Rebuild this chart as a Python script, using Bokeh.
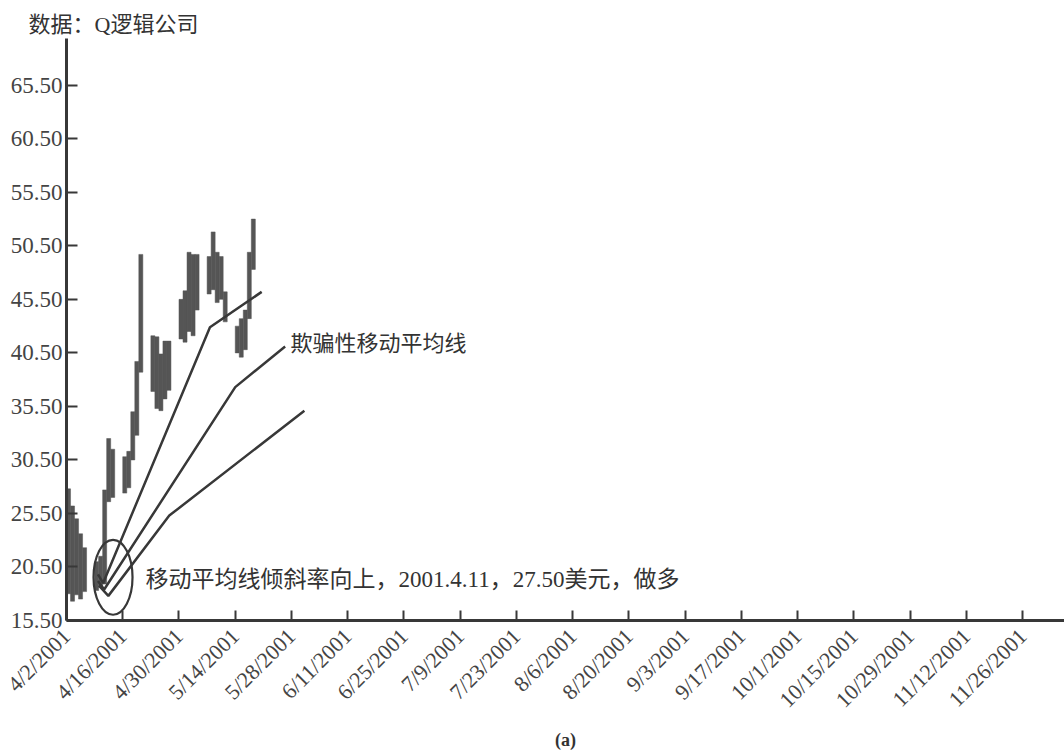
import math
import pandas as pd
from bokeh.plotting import figure
from bokeh.models import Range1d, FixedTicker, Label, NumeralTickFormatter
from bokeh.embed import file_html
from bokeh.resources import INLINE

# ---------------- data ----------------
START = "2001-04-02"

bar_dates = [
    "2001-04-02", "2001-04-03", "2001-04-04", "2001-04-05", "2001-04-06",
    "2001-04-09", "2001-04-10", "2001-04-11", "2001-04-12", "2001-04-13",
    "2001-04-16", "2001-04-17", "2001-04-18", "2001-04-19", "2001-04-20",
    "2001-04-23", "2001-04-24", "2001-04-25", "2001-04-26", "2001-04-27",
    "2001-04-30", "2001-05-01", "2001-05-02", "2001-05-03", "2001-05-04",
    "2001-05-07", "2001-05-08", "2001-05-09", "2001-05-10", "2001-05-11",
    "2001-05-14", "2001-05-15", "2001-05-16", "2001-05-17", "2001-05-18",
]
bar_high = [
    27.8, 26.2, 25.0, 23.6, 22.3,
    21.0, 21.5, 27.7, 32.5, 31.5,
    30.8, 31.3, 35.0, 39.7, 49.7,
    42.1, 42.0, 40.4, 41.6, 41.6,
    45.5, 46.3, 49.9, 49.7, 49.7,
    49.5, 51.8, 49.9, 49.5, 46.2,
    43.0, 43.7, 44.5, 49.9, 53.0,
]
bar_low = [
    18.0, 17.3, 17.9, 17.5, 18.2,
    18.3, 18.6, 18.9, 26.6, 27.0,
    27.4, 27.9, 30.5, 32.8, 38.7,
    36.9, 35.3, 35.1, 36.2, 37.0,
    41.8, 41.5, 42.5, 42.1, 44.5,
    46.0, 46.4, 45.2, 45.5, 43.4,
    40.5, 40.1, 40.8, 43.7, 48.3,
]

# moving-average lines (as drawn)
ma1_dates = ["2001-04-09 20:00", "2001-04-11 03:00", "2001-05-07 17:00", "2001-05-20 14:00"]
ma1_vals = [19.8, 19.0, 42.9, 46.2]
ma2_dates = ["2001-04-09 20:00", "2001-04-11 09:00", "2001-05-14 00:00", "2001-05-26 10:00"]
ma2_vals = [19.2, 18.4, 37.3, 41.1]
ma3_dates = ["2001-04-10 02:00", "2001-04-12 10:00", "2001-04-27 14:00", "2001-05-31 05:00"]
ma3_vals = [18.75, 17.8, 25.3, 35.1]

tick_dates = [
    "2001-04-02", "2001-04-16", "2001-04-30", "2001-05-14", "2001-05-28",
    "2001-06-11", "2001-06-25", "2001-07-09", "2001-07-23", "2001-08-06",
    "2001-08-20", "2001-09-03", "2001-09-17", "2001-10-01", "2001-10-15",
    "2001-10-29", "2001-11-12", "2001-11-26",
]
tick_labels = [
    "4/2/2001", "4/16/2001", "4/30/2001", "5/14/2001", "5/28/2001",
    "6/11/2001", "6/25/2001", "7/9/2001", "7/23/2001", "8/6/2001",
    "8/20/2001", "9/3/2001", "9/17/2001", "10/1/2001", "10/15/2001",
    "10/29/2001", "11/12/2001", "11/26/2001",
]
y_ticks = [15.5, 20.5, 25.5, 30.5, 35.5, 40.5, 45.5, 50.5, 55.5, 60.5, 65.5]

title_text = "数据：Q逻辑公司"
ma_label = "欺骗性移动平均线"
signal_label = "移动平均线倾斜率向上，2001.4.11，27.50美元，做多"
caption = "(a)"

# ---------------- helpers ----------------
t0 = pd.Timestamp(START)


def to_days(seq):
    return [(pd.Timestamp(d) - t0) / pd.Timedelta(days=1) for d in seq]


bar_x = [d + 0.5 for d in to_days(bar_dates)]
tick_x = to_days(tick_dates)

INK = "#383838"
BAR = "#555555"
SERIF = "Liberation Serif"
MIXED = "Liberation Serif, Noto Sans CJK SC"

p = figure(
    width=1064, height=753,
    output_backend="svg", toolbar_location=None,
    x_range=Range1d(0, 248.4), y_range=Range1d(15.5, 69.87),
    min_border_left=66, min_border_right=0, min_border_top=38, min_border_bottom=130,
)
p.outline_line_color = None
p.grid.visible = False
p.background_fill_color = "white"
p.border_fill_color = "white"

# title (top-left data note)
p.title.text = title_text
p.title.align = "left"
p.title.offset = -38
p.title.standoff = 4
p.title.text_font = MIXED
p.title.text_font_size = "22px"
p.title.text_font_style = "normal"
p.title.text_color = "#333333"

# price bars
p.vbar(x=bar_x, top=bar_high, bottom=bar_low, width=1.0,
       fill_color=BAR, line_color=BAR, line_width=0.5)

# moving averages
for ds, vs in ((ma1_dates, ma1_vals), (ma2_dates, ma2_vals), (ma3_dates, ma3_vals)):
    p.line(x=to_days(ds), y=vs, line_color=INK, line_width=2.5)

# highlight circle
p.ellipse(x=[11.58], y=[19.54], width=39, height=75,
          width_units="screen", height_units="screen",
          fill_color=None, line_color=INK, line_width=2.2)

# axes
p.xaxis.ticker = FixedTicker(ticks=tick_x)
p.xaxis.major_label_overrides = {t: lab for t, lab in zip(tick_x, tick_labels)}
p.xaxis.major_label_orientation = math.pi / 4
p.yaxis.ticker = FixedTicker(ticks=y_ticks)
p.yaxis.formatter = NumeralTickFormatter(format="0.00")

for ax in (p.xaxis[0], p.yaxis[0]):
    ax.axis_line_color = INK
    ax.axis_line_width = 3
    ax.major_tick_line_color = INK
    ax.major_tick_line_width = 2
    ax.major_tick_out = 0
    ax.minor_tick_line_color = None
    ax.major_label_text_font = SERIF
    ax.major_label_text_color = "#444444"

p.xaxis.major_label_text_font_size = "22px"
p.yaxis.major_label_text_font_size = "23px"
p.xaxis.major_tick_in = 10
p.yaxis.major_tick_in = 11
p.xaxis.major_label_standoff = 12
p.yaxis.major_label_standoff = 4

p.xaxis.axis_label = caption
p.xaxis.axis_label_text_font = SERIF
p.xaxis.axis_label_text_font_style = "bold"
p.xaxis.axis_label_text_font_size = "18px"
p.xaxis.axis_label_text_color = "#333333"
p.xaxis.axis_label_standoff = 6

# annotations
p.add_layout(Label(x=55.76, y=41.34, text=ma_label, text_font=MIXED,
                   text_font_size="22px", text_color="#333333",
                   text_baseline="middle", text_align="left"))
p.add_layout(Label(x=19.67, y=19.31, text=signal_label, text_font=MIXED,
                   text_font_size="23px", text_color="#333333",
                   text_baseline="middle", text_align="left"))

open("out.html", "w").write(file_html(p, INLINE))
